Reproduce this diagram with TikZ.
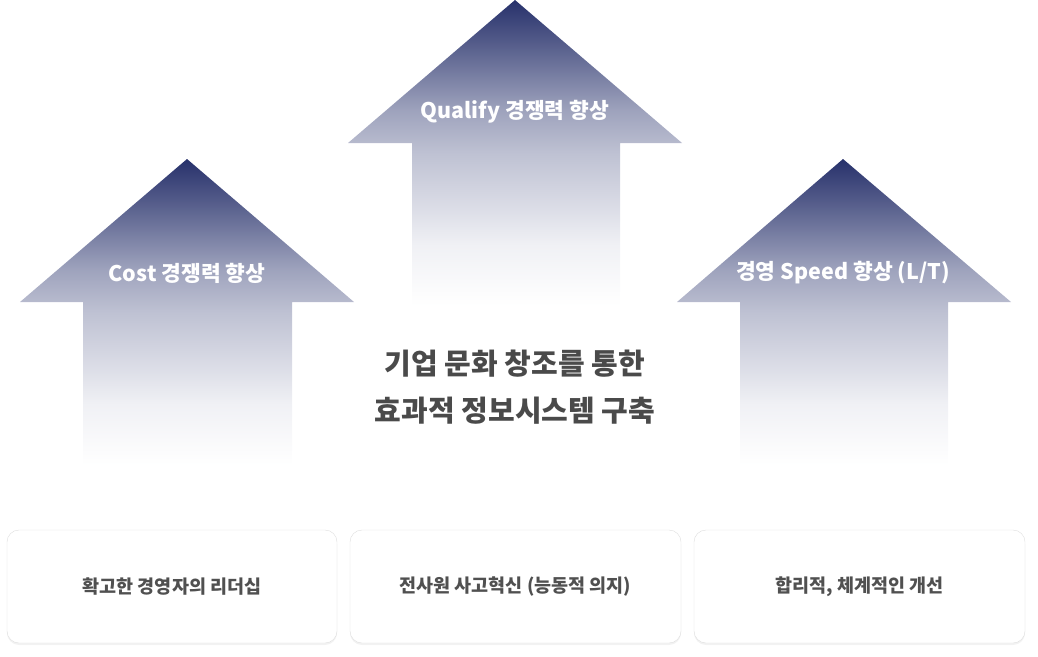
\documentclass[tikz,border=0pt]{standalone}
\usepackage{fontspec}
\setmainfont{Noto Sans CJK KR}
\usepackage{xcolor}
\usetikzlibrary{shadows}

\definecolor{arrownavy}{HTML}{27316B}
\definecolor{maintext}{HTML}{4A4A4A}
\definecolor{boxtext}{HTML}{505050}
\definecolor{boxline}{HTML}{DEDEDE}

\pgfdeclareverticalshading{arrowfade}{100bp}{color(0bp)=(white); color(25bp)=(white); color(35bp)=(arrownavy!7!white); color(40bp)=(arrownavy!15!white); color(50bp)=(arrownavy!30!white); color(57bp)=(arrownavy!45!white); color(67bp)=(arrownavy!76!white); color(75bp)=(arrownavy); color(100bp)=(arrownavy)}

\begin{document}
\begin{tikzpicture}[x=1pt, y=-1pt]
    \useasboundingbox (0,0) rectangle (1038,656);

    % 화살표 1
    \shade[shading=arrowfade] (187,159) -- (354,302) -- (292,302) -- (292,465) -- (83,465) -- (83,302) -- (20,302) -- cycle;
    \node[text=white, font=\fontsize{21.5}{24}\selectfont\bfseries] (cost) at (187,273) {Cost 경쟁력 향상};

    % 화살표 2
    \shade[shading=arrowfade] (515,0) -- (682,143) -- (620,143) -- (620,306) -- (412,306) -- (412,143) -- (348,143) -- cycle;
    \node[text=white, font=\fontsize{21.5}{24}\selectfont\bfseries] (quality) at (515,112) {Qualify 경쟁력 향상};

    % 화살표 3
    \shade[shading=arrowfade] (843,159) -- (1011,302) -- (948,302) -- (948,465) -- (740,465) -- (740,302) -- (677,302) -- cycle;
    \node[text=white, font=\fontsize{21.5}{24}\selectfont\bfseries] (speed) at (843,273) {경영 Speed 향상 (L/T)};

    % 가운데 제목
    \node[text=maintext, align=center, font=\fontsize{29}{47}\selectfont\bfseries] (goal) at (515,387) {
        기업 문화 창조를 통한 \\
        효과적 정보시스템 구축
    };

    % 아래 상자
    \node[draw=boxline, fill=white, rounded corners=12pt, minimum width=330pt, minimum height=113pt,
          drop shadow={opacity=0.1, shadow xshift=0pt, shadow yshift=-2pt},
          text=boxtext, font=\fontsize{18.5}{21}\selectfont\bfseries] (b1) at (172,586.5) {확고한 경영자의 리더십};
    \node[draw=boxline, fill=white, rounded corners=12pt, minimum width=331pt, minimum height=113pt,
          drop shadow={opacity=0.1, shadow xshift=0pt, shadow yshift=-2pt},
          text=boxtext, font=\fontsize{18.5}{21}\selectfont\bfseries] (b2) at (515.5,586.5) {전사원 사고혁신 (능동적 의지)};
    \node[draw=boxline, fill=white, rounded corners=12pt, minimum width=331pt, minimum height=113pt,
          drop shadow={opacity=0.1, shadow xshift=0pt, shadow yshift=-2pt},
          text=boxtext, font=\fontsize{18.5}{21}\selectfont\bfseries] (b3) at (859.5,586.5) {합리적, 체계적인 개선};
\end{tikzpicture}
\end{document}
